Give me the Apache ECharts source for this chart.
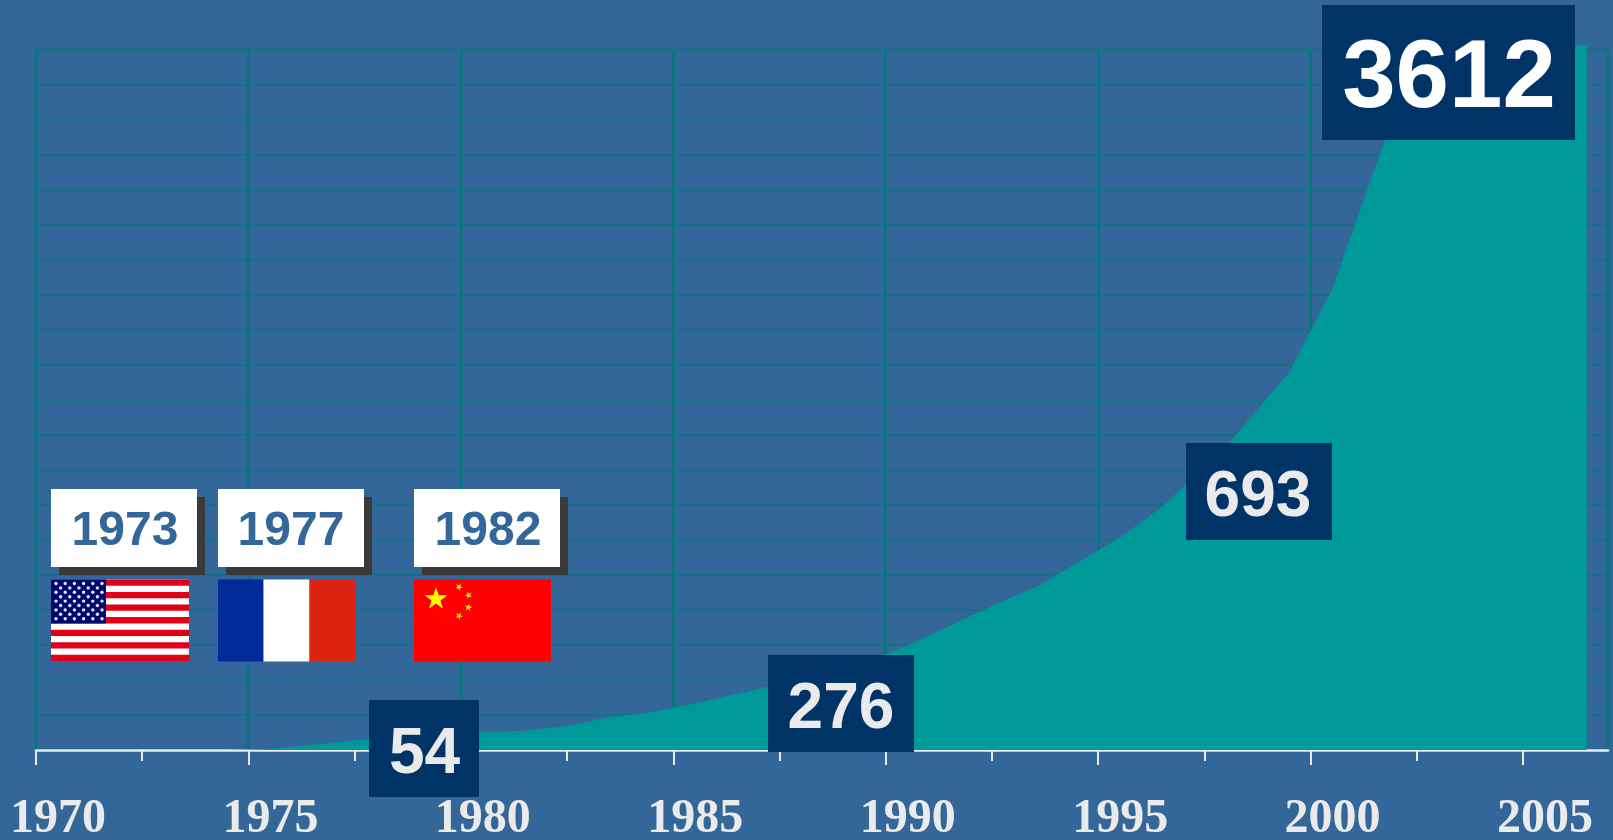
<!DOCTYPE html>
<html><head><meta charset="utf-8">
<style>html,body{margin:0;padding:0;background:#336699}#c{width:1613px;height:840px}</style>
<script src="https://cdn.jsdelivr.net/npm/echarts@6/dist/echarts.min.js"></script>
</head><body><div id="c"></div>
<script>
const years = [1974.5,1975.5,1977.8,1980.4,1981.5,1982.5,1983.5,1984.5,1985,1985.7,1987.2,1990,1990.5,1992.7,1993.5,1995.5,1996.5,1998.1,1999.5,2000.5,2001.75,2002.5,2006.5,2006.5];
const values = [0,5,55,91,99,123,168,193,217,248,322,492,533,759,831,1087,1246,1580,1939,2359,3129,3612,3612,0];
const majorTicks = [1970,1975,1980,1985,1990,1995,2000,2005];
const minorTicks = [1972.5,1977.5,1982.5,1987.5,1992.5,1997.5,2002.5];
const callouts = ['54','276','693','3612'];
const flagYears = ['1973','1977','1982'];

const BG='#336699',AREA='#009999',DARK='#003366',LIGHT='#eaeaea';
const g=[];
function rect(x,y,w,h,fill){g.push({type:'rect',z:100,silent:true,shape:{x,y,width:w,height:h},style:{fill}});}
function label(t,cx,cy,size,fill){g.push({type:'text',z:101,silent:true,x:cx,y:cy,style:{text:t,fill,font:'bold '+size+'px "Liberation Sans",Arial,sans-serif',textAlign:'center',textVerticalAlign:'middle'}});}
function star(cx,cy,R,rot,fill){const pts=[];for(let i=0;i<10;i++){const r=i%2?R*0.382:R,a=rot-Math.PI/2+i*Math.PI/5;pts.push([cx+r*Math.cos(a),cy+r*Math.sin(a)]);}
 g.push({type:'polygon',z:102,silent:true,shape:{points:pts},style:{fill}});}

// value callouts
rect(369,700,110,97,DARK); label(callouts[0],424.5,755,64,LIGHT);
rect(768,655,146,97,DARK); label(callouts[1],841,710,64,LIGHT);
rect(1186,443,146,97,DARK); label(callouts[2],1258,498,64,LIGHT);
rect(1322,5,253,135,DARK); label(callouts[3],1449,81,96,'#ffffff');

// year tags
[[51,125],[218,291],[414,488]].forEach((p,i)=>{
  rect(p[0]+8,497,146,78,'#3a3a3a');
  rect(p[0],489,146,78,'#ffffff');
  label(flagYears[i],p[1],532,48,BG);
});

// USA flag
const ux=51,uy=579.5,uw=138,uh=81.5,sh=uh/13;
rect(ux,uy,uw,uh,'#ffffff');
for(let i=0;i<13;i+=2) rect(ux,uy+i*sh,uw,sh,'#e00018');
rect(ux,uy,55,sh*7,'#000a6e');
for(let r=0;r<9;r++){const n=r%2?5:6;for(let c=0;c<n;c++){
  g.push({type:'circle',z:102,silent:true,shape:{cx:ux+5+(r%2?4.6:0)+c*9.2,cy:uy+4+r*4.4,r:1.7},style:{fill:'#e4e6f4'}});}}

// France flag
rect(218,579.5,45.5,82,'#002a9a'); rect(263.5,579.5,46,82,'#ffffff'); rect(309.5,579.5,45.5,82,'#dc2410');

// China flag
rect(414,579.5,137,82,'#ff0000');
star(436,599,12,0,'#ffff00');
star(459,587,4,0.5,'#ffee00'); star(468.5,595,4,0.9,'#ffee00'); star(468.5,607.5,4,0.2,'#ffee00'); star(459,616,4,0.5,'#ffee00');

const chart=echarts.init(document.getElementById('c'),null,{renderer:'canvas'});
chart.setOption({
  animation:false,
  backgroundColor:BG,
  grid:{left:36,right:5,top:50,height:700,outerBoundsMode:'none',show:true,borderColor:'#007a7a',borderWidth:2.5,backgroundColor:'transparent'},
  xAxis:[{
    type:'value',min:1970,max:2007,interval:5,
    axisLine:{show:true,onZero:false,lineStyle:{color:LIGHT,width:2.5}},
    axisTick:{show:true,customValues:majorTicks,length:15,lineStyle:{color:LIGHT,width:2}},
    axisLabel:{show:true,customValues:majorTicks,margin:46,padding:[0,0,0,44],color:LIGHT,fontFamily:'"Liberation Serif","Times New Roman",serif',fontWeight:'bold',fontSize:48,formatter:v=>String(v)},
    splitLine:{show:true,lineStyle:{color:'#007a7a',width:2.5}}
  },{
    type:'value',min:1970,max:2007,interval:5,position:'bottom',
    axisLine:{show:false},axisLabel:{show:false},splitLine:{show:false},
    axisTick:{show:true,customValues:minorTicks,length:11,lineStyle:{color:LIGHT,width:2}}
  }],
  yAxis:{type:'value',min:0,max:3590,interval:179.5,axisLine:{show:false},axisTick:{show:false},axisLabel:{show:false},
    splitLine:{show:true,lineStyle:{color:'#157284',width:2}}},
  series:[{type:'line',clip:false,showSymbol:false,symbol:'none',z:5,
    data:years.map((y,i)=>[y,values[i]]),
    lineStyle:{width:0},areaStyle:{color:AREA,opacity:1}}],
  graphic:{elements:g}
});
</script></body></html>
